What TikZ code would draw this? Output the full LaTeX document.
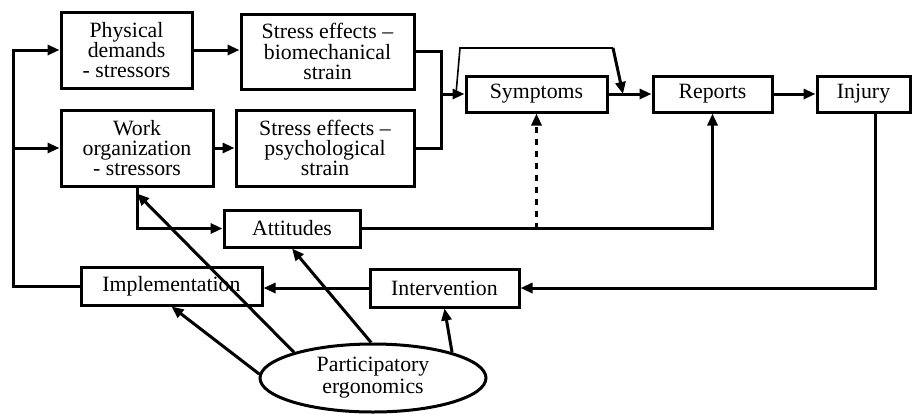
\documentclass[tikz,border=0pt]{standalone}
\usepackage{fontspec}
\setmainfont{Liberation Serif}
\usepackage{tikz}
\usetikzlibrary{shapes.geometric, arrows.meta, positioning}
\tikzstyle{block} = [rectangle, draw=black, line width=1.5pt, fill=white, align=center, inner sep=1pt, font=\fontsize{10.9}{10.2}\selectfont]
\tikzstyle{oval} = [ellipse, draw=black, line width=1.5pt, align=center, inner sep=1pt, minimum width=113pt, minimum height=34pt, font=\fontsize{10.9}{11}\selectfont]
\tikzstyle{arrow} = [line width=1.5pt, -{Triangle[length=6pt,width=5pt]}]
\tikzstyle{line} = [draw, line width=1.5pt, -]

\begin{document}
\begin{tikzpicture}[x=0.5pt, y=-0.5pt]
        \useasboundingbox (0,0) rectangle (921,414);

        \node[block, minimum width=65.5pt, minimum height=38pt] (phys) at (126.5, 50) {Physical\\demands\\- stressors};
        \node[block, minimum width=86.5pt, minimum height=37.5pt] (bio) at (327.5, 51.5) {Stress effects --\\biomechanical\\strain};
        \node[block, minimum width=76pt, minimum height=38pt] (work) at (137, 148) {Work\\organization\\- stressors};
        \node[block, minimum width=89pt, minimum height=38pt] (psych) at (325, 148) {Stress effects --\\psychological\\strain};

        \node[block, minimum width=70.5pt, minimum height=18pt] (symp) at (536.5, 94) {Symptoms};
        \node[block, minimum width=59.5pt, minimum height=18pt] (rep) at (712.5, 94) {Reports};
        \node[block, minimum width=46.5pt, minimum height=18pt] (inj) at (863.5, 94) {Injury};

        \node[block, minimum width=68pt, minimum height=18.5pt] (att) at (292, 228.5) {Attitudes};
        \node[block, minimum width=90.5pt, minimum height=19pt] (impl) at (171.5, 286) {Implementation};
        \node[block, minimum width=74.5pt, minimum height=19pt] (interv) at (444.5, 288) {Intervention};

        \node[oval] (pe) at (373, 378) {Participatory\\ergonomics};

        \coordinate (trunk) at (13, 50);
        \coordinate (merge) at (441, 94);
        \coordinate (by1) at (456, 94);
        \coordinate (by2) at (460, 48);
        \coordinate (by3) at (613, 48);
        \coordinate (bytip) at (623, 94);
        \coordinate (injout) at (875, 112);

        % stressors and strain
        \draw[arrow] (impl.west) -| (trunk) -- (phys.west);
        \draw[arrow] (trunk |- work.west) -- (work.west);
        \draw[arrow] (phys.east) -- (phys.east -| bio.west);
        \draw[arrow] (work.east) -- (work.east -| psych.west);
        \draw[line] (bio.east) -| (merge) |- (psych.east);
        \draw[arrow] (merge) -- (symp.west);

        % outcomes
        \draw[line, line width=0.8pt] (by1) -- (by2) -- (by3);
        \draw[arrow] (by3) -- (bytip);
        \draw[arrow] (symp.east) -- (rep.west);
        \draw[arrow] (rep.east) -- (inj.west);
        \draw[arrow] (injout) |- (interv.east);
        \draw[arrow] (interv.west) -- (interv.west -| impl.east);

        % attitudes
        \draw[arrow] (work.south) |- (att.west);
        \draw[arrow] (att.east) -| (rep.south);
        \draw[arrow, dashed] (att.east -| symp.south) -- (symp.south);

        % participatory ergonomics
        \draw[arrow] (pe.178) -- (impl.south);
        \draw[arrow] (pe.162) -- ([yshift=-3pt]work.south);
        \draw[arrow] (pe.93) -- (att.south);
        \draw[arrow] (pe.18) -- (interv.south);
    \end{tikzpicture}
\end{document}
